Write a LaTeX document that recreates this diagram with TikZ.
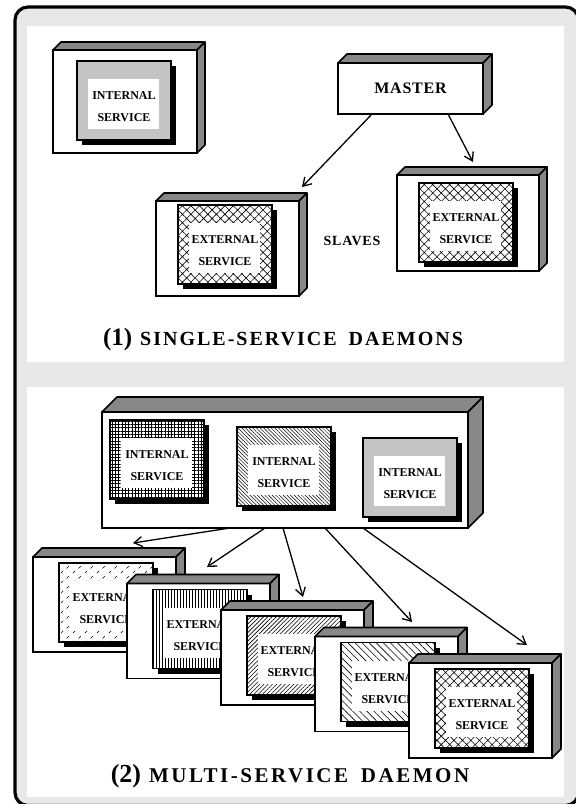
\documentclass[tikz,border=0pt]{standalone}
\usepackage{fontspec}
\setmainfont{Liberation Serif}[BoldFont={Liberation Serif Bold}]
\usetikzlibrary{arrows.meta,patterns,patterns.meta}

\definecolor{framegray}{RGB}{232,232,232}
\definecolor{depthgray}{RGB}{135,135,135}

% short slanted dashes, staggered
\pgfdeclarepattern{
  name=ticks,
  type=uncolored,
  bottom left={\pgfpoint{0pt}{0pt}},
  top right={\pgfpoint{12pt}{10pt}},
  tile size={\pgfpoint{12pt}{10pt}},
  code={
    \pgfsetlinewidth{0.7pt}
    \pgfpathmoveto{\pgfpoint{1pt}{1pt}}\pgfpathlineto{\pgfpoint{3.5pt}{3.5pt}}
    \pgfpathmoveto{\pgfpoint{7pt}{6pt}}\pgfpathlineto{\pgfpoint{9.5pt}{8.5pt}}
    \pgfusepath{stroke}
  }
}

\tikzset{
  frontface/.style={draw, line width=1.6pt, fill=white, inner sep=0pt, outer sep=0pt},
  depthface/.style={draw, line width=1.6pt, fill=depthgray, line join=round},
  svcbox/.style={draw, line width=1.8pt, preaction={fill=white}, inner sep=0pt,
    outer sep=0pt, minimum width=94pt, minimum height=79pt, anchor=north west},
  svcwhite/.style={fill=white, inner sep=0pt, outer sep=0pt, minimum width=71pt,
    minimum height=50pt, anchor=north west},
  svclabel/.style={font=\bfseries\fontsize{12}{12}\selectfont, inner sep=0pt},
  biglabel/.style={font=\bfseries\fontsize{16}{16}\selectfont\addfontfeatures{LetterSpace=5}, inner sep=0pt},
  link/.style={line width=1.3pt, -{Straight Barb[length=8pt,width=10pt,line width=1.3pt]}},
  title/.style={inner sep=0pt, font=\bfseries},
  finedots/.style={pattern={Dots[distance=2pt,radius=0.55pt]}},
  diamonds/.style={pattern={Hatch[angle=45,distance=6pt,line width=0.6pt]}},
  meshgrid/.style={pattern={Hatch[angle=0,distance=3.3pt,line width=0.9pt]}},
  backslash/.style={pattern={Lines[angle=-45,distance=2.6pt,line width=0.5pt]}},
  slashdense/.style={pattern={Lines[angle=45,distance=3pt,line width=0.6pt]}},
  backsparse/.style={pattern={Lines[angle=-45,distance=5pt,line width=0.6pt]}},
  vlines/.style={pattern={Lines[angle=90,distance=3pt,line width=0.8pt]}},
  tickmarks/.style={pattern=ticks},
}

% 3-D box: name, x, y (top-left of front face), width, height, depth
\newcommand\hostbox[6]{%
  \node[frontface, minimum width=#4pt, minimum height=#5pt, anchor=north west] (#1) at (#2,#3) {};
  \draw[depthface] (#1.north west) -- ++(#6,-#6) -- ([shift={(#6,-#6)}]#1.north east)
    -- (#1.north east) -- cycle;
  \draw[depthface] (#1.north east) -- ++(#6,-#6) -- ([shift={(#6,-#6)}]#1.south east)
    -- (#1.south east) -- cycle;
}

% service panel with drop shadow: name, x, y, fill style, first line, second line
\newcommand\service[6]{%
  \fill (#2+5,#3+5) rectangle ++(94,79);
  \node[svcbox, #4] (#1) at (#2,#3) {};
  \node[svcwhite] (#1-w) at (#2+11,#3+18) {};
  \node[svclabel] (#1-a) at (#2+47,#3+35) {#5};
  \node[svclabel] (#1-b) at (#2+47,#3+57) {#6};
}

\begin{document}
\begin{tikzpicture}[x=1pt, y=-1pt]
\useasboundingbox (0,0) rectangle (576,804);

% frame and the two panels
\draw[line width=3.2pt, fill=framegray, rounded corners=13pt] (15,7) rectangle (578.5,805.5);
\fill[white] (27,26) rectangle (564,362);
\fill[white] (27,387) rectangle (564,797);

% ---- single-service daemons ----
\hostbox{tl}{53}{50}{144}{103}{8}
\service{tls}{77}{61}{finedots}{INTERNAL}{SERVICE}

\hostbox{master}{338}{63}{145}{51}{9}
\node[biglabel] (master-t) at (master.center) {MASTER};

\hostbox{tr}{397}{175}{142}{96}{8}
\service{trs}{419}{183}{diamonds}{EXTERNAL}{SERVICE}

\hostbox{sl}{156}{201}{143}{95}{8}
\service{sls}{178}{205}{diamonds}{EXTERNAL}{SERVICE}

\node[font=\bfseries\fontsize{14}{14}\selectfont\addfontfeatures{LetterSpace=6}, inner sep=0pt] (slaves) at (352,241) {SLAVES};

\coordinate (m-l) at ([xshift=34pt]master.south west);
\coordinate (m-r) at ([xshift=110pt]master.south west);
\coordinate (sl-in) at (302,187);
\coordinate (tr-in) at (473,162);
\draw[link] (m-l) -- (sl-in);
\draw[link] (m-r) -- (tr-in);

\node[title] (t1) at (283,339) {{\fontsize{25}{25}\selectfont(1)}\hspace{8pt}{\fontsize{20}{20}\selectfont\addfontfeatures{LetterSpace=10}SINGLE-SERVICE\hspace{5pt} DAEMONS}};

% ---- multi-service daemon ----
\hostbox{host}{102}{412}{366}{116}{15}
\service{hs1}{110}{420}{meshgrid}{INTERNAL}{SERVICE}
\service{hs2}{237}{427}{backslash}{INTERNAL}{SERVICE}
\service{hs3}{363}{438}{finedots}{INTERNAL}{SERVICE}

\hostbox{e1}{33}{557}{143}{95}{9}
\service{es1}{59}{563}{tickmarks}{EXTERNAL}{SERVICE}
\hostbox{e2}{127}{583.5}{143}{95}{9}
\service{es2}{153}{589.5}{vlines}{EXTERNAL}{SERVICE}
\hostbox{e3}{221}{610}{143}{95}{9}
\service{es3}{247}{616}{slashdense}{EXTERNAL}{SERVICE}
\hostbox{e4}{315}{636.5}{143}{95}{9}
\service{es4}{341}{642.5}{backsparse}{EXTERNAL}{SERVICE}
\hostbox{e5}{409}{663}{143}{95}{9}
\service{es5}{435}{669}{diamonds}{EXTERNAL}{SERVICE}

\coordinate (h1) at ([xshift=128pt]host.south west);
\coordinate (h2) at ([xshift=163pt]host.south west);
\coordinate (h3) at ([xshift=181pt]host.south west);
\coordinate (h4) at ([xshift=223pt]host.south west);
\coordinate (h5) at ([xshift=261pt]host.south west);
\coordinate (e1-in) at (133,543);
\coordinate (e2-in) at (207,567);
\coordinate (e3-in) at (303,597);
\coordinate (e4-in) at (412,622);
\coordinate (e5-in) at (527,645);
\draw[link] (h1) -- (e1-in);
\draw[link] (h2) -- (e2-in);
\draw[link] (h3) -- (e3-in);
\draw[link] (h4) -- (e4-in);
\draw[link] (h5) -- (e5-in);

\node[title] (t2) at (290,776) {{\fontsize{26}{26}\selectfont(2)}\hspace{8pt}{\fontsize{21}{21}\selectfont\addfontfeatures{LetterSpace=12}MULTI-SERVICE\hspace{5pt} DAEMON}};
\end{tikzpicture}
\end{document}
